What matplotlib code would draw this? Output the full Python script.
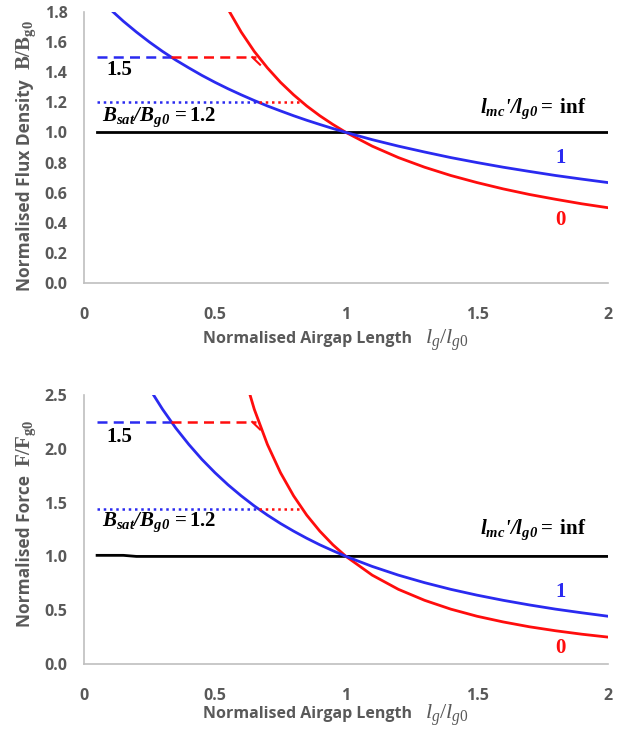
import matplotlib
matplotlib.use("Agg")
import matplotlib.pyplot as plt

plt.rcParams['font.family'] = ['Open Sans', 'DejaVu Sans']
plt.rcParams['mathtext.fontset'] = 'custom'
plt.rcParams['mathtext.rm'] = 'Liberation Serif'
plt.rcParams['mathtext.it'] = 'Liberation Serif:italic'
plt.rcParams['mathtext.bf'] = 'Liberation Serif:bold'
plt.rcParams['mathtext.bfit'] = 'Liberation Serif:italic:bold'

# normalised airgap length
x = [0.05, 0.10, 0.15, 0.20, 0.25, 0.30, 0.35, 0.40, 0.45, 0.50,
     0.55, 0.60, 0.65, 0.70, 0.75, 0.80, 0.85, 0.90, 0.95, 1.00,
     1.1, 1.2, 1.3, 1.4, 1.5, 1.6, 1.7, 1.8, 1.9, 2.0]

# flux density B/Bg0
b_inf = [1.0] * 30
b_one = [1.905, 1.818, 1.739, 1.667, 1.600, 1.538, 1.481, 1.429, 1.379, 1.333,
         1.290, 1.250, 1.212, 1.176, 1.143, 1.111, 1.081, 1.053, 1.026, 1.000,
         0.952, 0.909, 0.870, 0.833, 0.800, 0.769, 0.741, 0.714, 0.690, 0.667]
b_zero = [20.0, 10.0, 6.667, 5.0, 4.0, 3.333, 2.857, 2.5, 2.222, 2.0,
          1.818, 1.667, 1.538, 1.429, 1.333, 1.25, 1.176, 1.111, 1.053, 1.0,
          0.909, 0.833, 0.769, 0.714, 0.667, 0.625, 0.588, 0.556, 0.526, 0.5]

# force F/Fg0
f_inf = [1.01, 1.01, 1.01, 1.0, 1.0, 1.0, 1.0, 1.0, 1.0, 1.0,
         1.0, 1.0, 1.0, 1.0, 1.0, 1.0, 1.0, 1.0, 1.0, 1.0,
         1.0, 1.0, 1.0, 1.0, 1.0, 1.0, 1.0, 1.0, 1.0, 1.0]
f_one = [3.628, 3.306, 3.025, 2.778, 2.560, 2.367, 2.194, 2.041, 1.902, 1.778,
         1.665, 1.563, 1.469, 1.384, 1.306, 1.235, 1.169, 1.108, 1.053, 1.000,
         0.907, 0.826, 0.756, 0.694, 0.640, 0.592, 0.549, 0.510, 0.476, 0.444]
f_zero = [400.0, 100.0, 44.4, 25.0, 16.0, 11.1, 8.16, 6.25, 4.94, 4.0,
          3.306, 2.778, 2.367, 2.041, 1.778, 1.563, 1.384, 1.235, 1.108, 1.0,
          0.826, 0.694, 0.592, 0.510, 0.444, 0.391, 0.346, 0.309, 0.277, 0.25]

# saturation guide lines: (level, x start, x at lmc=1 curve, x at lmc=0 curve)
b_guides = [(1.5, 0.05, 0.333, 0.667), (1.2, 0.05, 0.667, 0.833)]
f_guides = [(2.25, 0.05, 0.333, 0.667), (1.44, 0.05, 0.667, 0.833)]

BLUE = '#2a2af0'
RED = '#ff0d0d'
GRAY = '#595959'
SERIF = 'Liberation Serif'

fig = plt.figure(figsize=(6.33, 7.41), dpi=100)
ax1 = fig.add_axes([0.1327, 0.6181, 0.8278, 0.3657])
ax2 = fig.add_axes([0.1327, 0.1039, 0.8278, 0.3630])


def style(ax, ymax, yticks, ylab, ylab_math, ylab_y, ymath_y, xlab_y):
    ax.set_xlim(0, 2)
    ax.set_ylim(0, ymax)
    ax.set_xticks([0, 0.5, 1, 1.5, 2])
    ax.set_xticklabels(['0', '0.5', '1', '1.5', '2'])
    ax.set_yticks(yticks)
    ax.set_yticklabels(['%.1f' % t for t in yticks])
    for s in ['top', 'right']:
        ax.spines[s].set_visible(False)
    for s in ['left', 'bottom']:
        ax.spines[s].set_color('#bfbfbf')
        ax.spines[s].set_linewidth(1.2)
    ax.tick_params(length=0, labelsize=11.5, labelcolor=GRAY)
    ax.tick_params(axis='y', pad=12)
    ax.tick_params(axis='x', pad=17)
    for lb in ax.get_xticklabels() + ax.get_yticklabels():
        lb.set_fontweight('bold')
    # axis titles, sans part and serif part drawn separately
    ax.text(0.4256, xlab_y, 'Normalised Airgap Length', transform=ax.transAxes,
            fontsize=11.5, color=GRAY, fontweight='bold', ha='center', va='center')
    ax.text(0.692, xlab_y - 0.005, r'$l_g/l_{g0}$', transform=ax.transAxes,
            fontsize=16, color=GRAY, ha='center', va='center')
    ax.text(-0.1126, ylab_y, ylab, transform=ax.transAxes, rotation=90,
            fontsize=12.5, color=GRAY, fontweight='bold', ha='center', va='center')
    ax.text(-0.110, ymath_y, ylab_math, transform=ax.transAxes, rotation=90,
            fontsize=15, color=GRAY, ha='center', va='center')


def guides(ax, levels, tick):
    lev, x0, x1, x2 = levels[0]
    ax.plot([x0, x1], [lev, lev], color=BLUE, ls=(0, (4, 2.5)), lw=1.8)
    ax.plot([x1, x2 - 0.01], [lev, lev], color=RED, ls=(0, (4, 2.5)), lw=1.8)
    ax.plot([x2 - 0.025, x2 + 0.005], [lev, lev - tick], color=RED, lw=1.5)
    lev, x0, x1, x2 = levels[1]
    ax.plot([x0, x1], [lev, lev], color=BLUE, ls=(0, (1, 1.5)), lw=1.8)
    ax.plot([x1, x2], [lev, lev], color=RED, ls=(0, (1, 1.5)), lw=1.8)


LMC = (r"$\mathbfit{l}_{\mathbfit{mc}}$" + "'/" + r"$\mathbfit{l}_{\mathbfit{g0}}$"
       + r"$\mathbf{=\ inf}$")
BSAT = r"$\mathbfit{B}_{\mathbfit{sat}}\mathbfit{/B}_{\mathbfit{g0}}$" + r"$\mathbf{\,=1.2}$"

# top: flux density
ax = ax1
style(ax, 1.8, [0.0, 0.2, 0.4, 0.6, 0.8, 1.0, 1.2, 1.4, 1.6, 1.8],
      'Normalised Flux Density', r'$\mathbf{B/B}_{\mathbf{g0}}$', 0.362, 0.878, -0.207)
ax.plot(x, b_inf, color='black', lw=2)
ax.plot(x, b_zero, color=RED, lw=2)
ax.plot(x, b_one, color=BLUE, lw=2)
guides(ax, b_guides, 0.05)
ax.text(0.085, 1.415, '1.5', fontsize=15, fontweight='bold', family=SERIF, va='center')
ax.text(0.07, 1.10, BSAT, fontsize=15, fontweight='bold', family=SERIF, va='center')
ax.text(1.51, 1.16, LMC, fontsize=15, fontweight='bold', family=SERIF,
        style='italic', va='center')
ax.text(1.80, 0.83, '1', color=BLUE, fontsize=15, fontweight='bold', family=SERIF, va='center')
ax.text(1.80, 0.42, '0', color=RED, fontsize=15, fontweight='bold', family=SERIF, va='center')

# bottom: force
ax = ax2
style(ax, 2.5, [0.0, 0.5, 1.0, 1.5, 2.0, 2.5],
      'Normalised Force', r'$\mathbf{F/F}_{\mathbf{g0}}$', 0.42, 0.82, -0.186)
ax.plot(x, f_inf, color='black', lw=2)
ax.plot(x, f_zero, color=RED, lw=2)
ax.plot(x, f_one, color=BLUE, lw=2)
guides(ax, f_guides, 0.07)
ax.text(0.085, 2.11, '1.5', fontsize=15, fontweight='bold', family=SERIF, va='center')
ax.text(0.07, 1.32, BSAT, fontsize=15, fontweight='bold', family=SERIF, va='center')
ax.text(1.51, 1.25, LMC, fontsize=15, fontweight='bold', family=SERIF,
        style='italic', va='center')
ax.text(1.80, 0.67, '1', color=BLUE, fontsize=15, fontweight='bold', family=SERIF, va='center')
ax.text(1.80, 0.15, '0', color=RED, fontsize=15, fontweight='bold', family=SERIF, va='center')

fig.savefig('out.png', dpi=100)
